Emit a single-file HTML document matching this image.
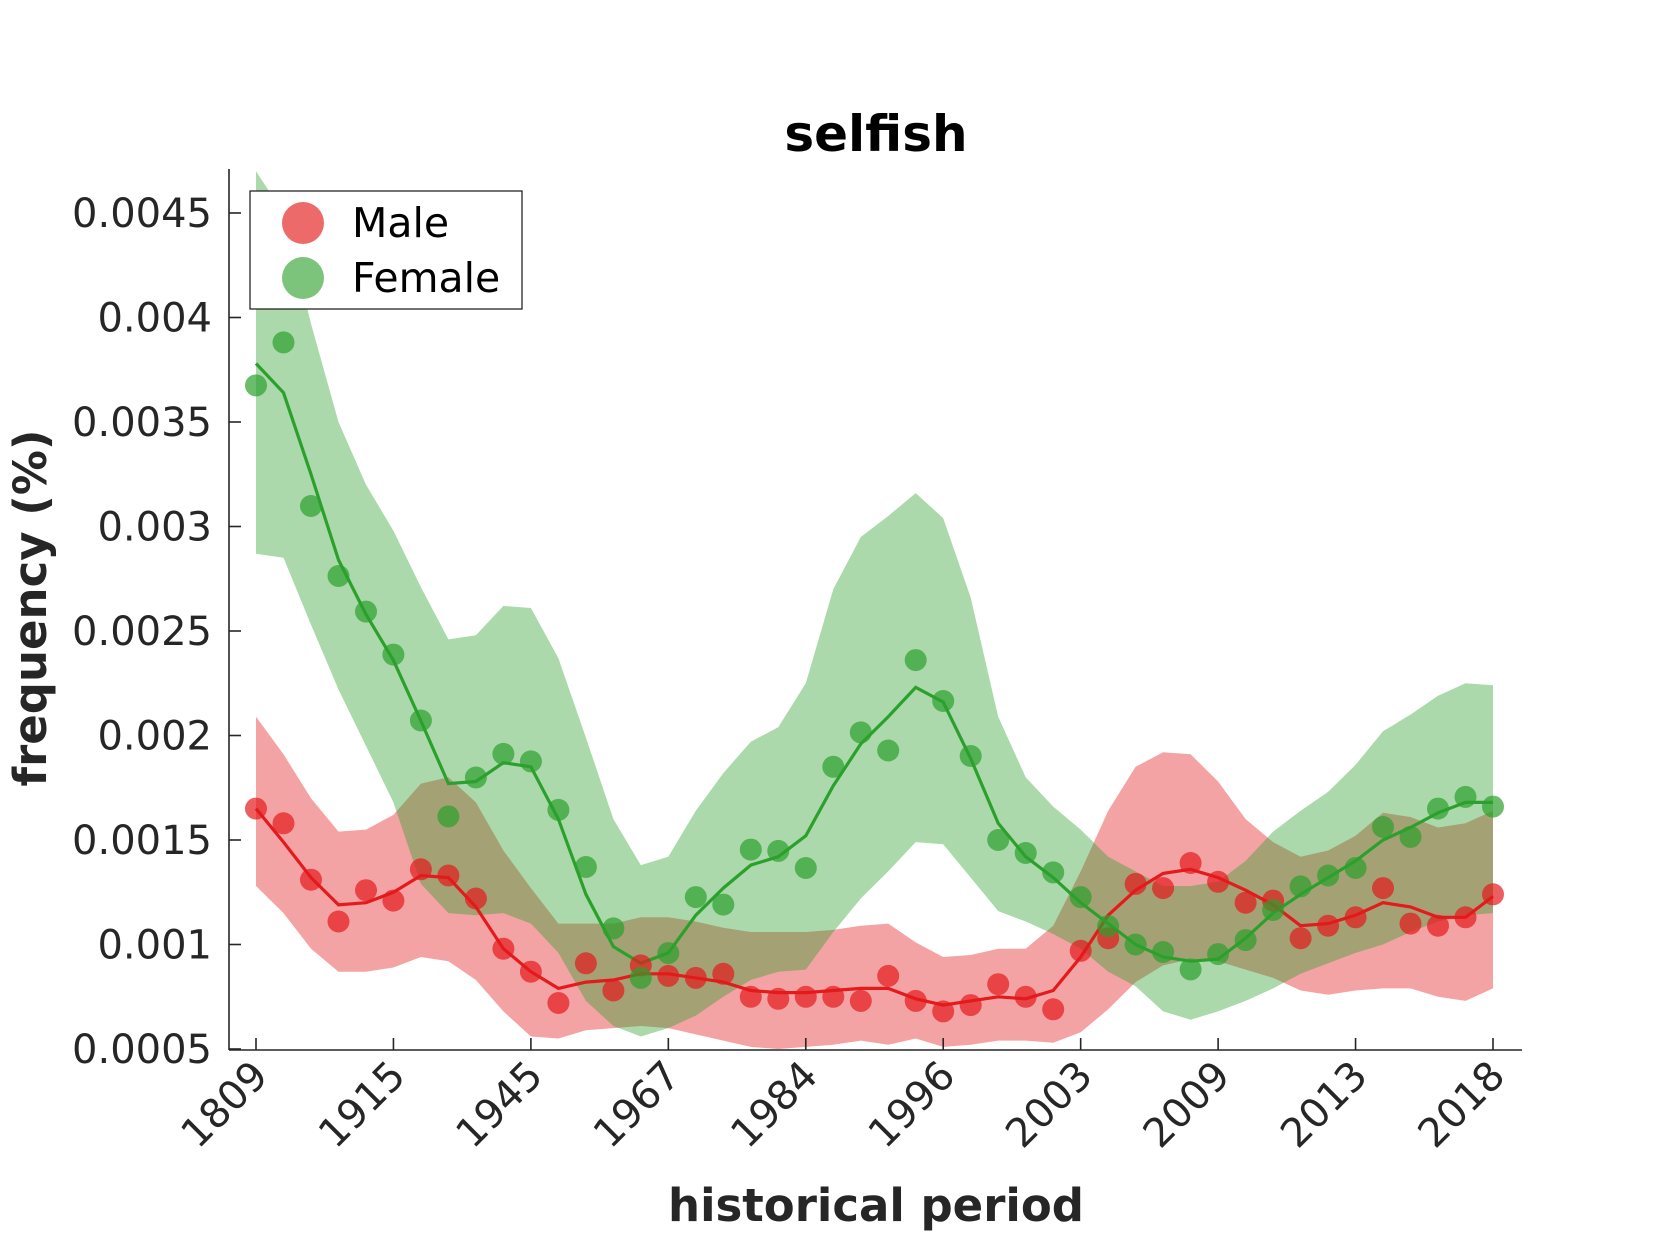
<!DOCTYPE html>
<html><head><meta charset="utf-8"><style>
body{margin:0;background:#fff;}
svg{display:block;font-family:"DejaVu Sans","Liberation Sans",sans-serif;}
</style></head><body>
<svg id="chart" width="1680" height="1260" viewBox="0 0 1680 1260">
<text x="876" y="151" text-anchor="middle" font-size="50" font-weight="bold" fill="#000">selfish</text>
<g id="bands"></g><g id="lines"></g><g id="dots"></g><g id="axes"></g>
<text x="876" y="1221" text-anchor="middle" font-size="45" font-weight="bold" fill="#262626">historical period</text>
<text transform="translate(46,608) rotate(-90)" text-anchor="middle" font-size="45" font-weight="bold" fill="#262626">frequency (%)</text>
<g>
<rect x="250" y="191" width="272" height="118" fill="#fff" stroke="#262626" stroke-width="1.3"/>
<circle cx="303" cy="223" r="21" fill="#e41a1c" fill-opacity="0.65"/>
<text x="352" y="237" font-size="41" fill="#000">Male</text>
<circle cx="303" cy="278" r="21" fill="#2ca02c" fill-opacity="0.62"/>
<text x="352" y="292" font-size="41" fill="#000">Female</text>
</g>
</svg>
<script>
const xTickLabels=["1809","1915","1945","1967","1984","1996","2003","2009","2013","2018"];
const yTicks=[0.0005,0.001,0.0015,0.002,0.0025,0.003,0.0035,0.004,0.0045];
const yTickLabels=["0.0005","0.001","0.0015","0.002","0.0025","0.003","0.0035","0.004","0.0045"];
const femaleDots=[.003675,.003881,.003098,.002763,.002593,.002387,.002072,.001613,.001799,.001912,.001876,.001644,.001371,.001077,.00084,.000959,.001227,.001191,.001454,.001448,.001366,.00185,.002015,.001928,.002361,.002165,.001902,.0015,.001438,.001345,.001227,.001088,.001,.000964,.000881,.000954,.001021,.001165,.001278,.00133,.001366,.001562,.001515,.00165,.001706,.00166];
const femaleLine=[.00378,.00364,.00325,.00284,.00258,.00236,.00207,.00177,.00178,.00187,.00185,.0016,.00124,.00099,.00091,.00096,.00114,.00127,.00138,.00142,.00152,.00176,.00196,.00209,.00223,.00216,.00189,.00158,.00142,.00132,.0012,.0011,.001,.00094,.00092,.00093,.00103,.00115,.00124,.00132,.0014,.0015,.00156,.00163,.00168,.00168];
const femaleUpper=[.0047,.0045,.00397,.0035,.0032,.00298,.00271,.00246,.00248,.00262,.00261,.00237,.00199,.0016,.00138,.00142,.00164,.00182,.00197,.00204,.00225,.0027,.00295,.00305,.00316,.00304,.00266,.00209,.0018,.00166,.00155,.00142,.00135,.00128,.00128,.0013,.0014,.00154,.00164,.00173,.00186,.00202,.0021,.00219,.00225,.00224];
const femaleLower=[.00287,.00285,.00253,.00222,.00195,.00168,.00129,.00115,.00114,.00115,.0011,.00096,.00073,.00061,.00056,.0006,.00066,.00075,.00083,.00087,.00088,.00106,.00122,.00135,.00149,.00148,.00132,.00116,.00111,.00105,.00098,.00087,.0008,.00068,.00064,.00068,.00073,.00079,.00086,.00091,.00096,.001,.00106,.00111,.00114,.00115];
const maleDots=[.00165,.00158,.00131,.00111,.00126,.00121,.00136,.00133,.00122,.00098,.00087,.00072,.00091,.00078,.0009,.00085,.00084,.00086,.00075,.00074,.00075,.00075,.00073,.00085,.00073,.00068,.00071,.00081,.00075,.00069,.00097,.00103,.00129,.00127,.00139,.0013,.0012,.00121,.00103,.00109,.00113,.00127,.0011,.00109,.00113,.00124];
const maleLine=[.00165,.00149,.00132,.00119,.0012,.00125,.00133,.00132,.00118,.00098,.00087,.00079,.00082,.00083,.00086,.00086,.00084,.00082,.00078,.00077,.00077,.00078,.00079,.00079,.00074,.00071,.00073,.00075,.00074,.00078,.00094,.00114,.00126,.00134,.00136,.00132,.00126,.00119,.00109,.0011,.00114,.0012,.00118,.00113,.00113,.00123];
const maleUpper=[.00209,.00191,.0017,.00154,.00155,.00162,.00177,.0018,.00168,.00145,.00127,.0011,.0011,.0011,.00113,.00113,.00111,.00108,.00106,.00106,.00106,.00107,.00109,.0011,.00101,.00094,.00095,.00098,.00098,.00109,.00135,.00164,.00185,.00192,.00191,.00178,.0016,.00149,.00142,.00145,.00152,.00163,.00161,.00156,.00158,.00164];
const maleLower=[.00128,.00115,.00098,.00087,.00087,.00089,.00094,.00092,.00083,.00068,.00056,.00055,.00059,.0006,.00061,.0006,.00057,.00054,.00051,.0005,.00051,.00052,.00054,.00052,.00055,.00051,.00052,.00054,.00054,.00053,.00058,.00069,.00082,.0009,.00093,.00092,.00088,.00084,.00078,.00076,.00078,.00079,.00079,.00075,.00073,.00079];

const NS="http://www.w3.org/2000/svg";
const X0=256,X1=1493,N=femaleDots.length;
const xs=i=>X0+(X1-X0)*i/(N-1);
const ys=v=>1049-(v-0.0005)/0.004*836;
function mk(tag,attrs,parent){const e=document.createElementNS(NS,tag);for(const k in attrs)e.setAttribute(k,attrs[k]);parent.appendChild(e);return e;}
const bands=document.getElementById('bands'),lines=document.getElementById('lines'),dots=document.getElementById('dots'),axes=document.getElementById('axes');
function band(up,lo,color,name){
 let d="M"+up.map((v,i)=>xs(i).toFixed(1)+","+ys(v).toFixed(1)).join("L");
 for(let i=lo.length-1;i>=0;i--)d+="L"+xs(i).toFixed(1)+","+ys(lo[i]).toFixed(1);
 const p=mk('path',{d:d+"Z",fill:color,'fill-opacity':0.4},bands);
 
 
}
band(maleUpper,maleLower,'#e41a1c','male-band');
band(femaleUpper,femaleLower,'#2ca02c','female-band');
function line(arr,color,name){
 const p=mk('polyline',{points:arr.map((v,i)=>xs(i).toFixed(1)+","+ys(v).toFixed(1)).join(" "),fill:'none',stroke:color,'stroke-width':3.2},lines);
 
 
}
line(maleLine,'#e41a1c','male-line');
line(femaleLine,'#2ca02c','female-line');
function pts(arr,color,op,name){
 arr.forEach((v,i)=>{
  const c=mk('circle',{cx:xs(i).toFixed(1),cy:ys(v).toFixed(1),r:11,fill:color,'fill-opacity':op},dots);
  
  
 });
}
pts(maleDots,'#e41a1c',0.7,'male-point');
pts(femaleDots,'#2ca02c',0.7,'female-point');
const la=mk('line',{x1:229,y1:169,x2:229,y2:1050,stroke:'#262626','stroke-width':1.6},axes);


const ba=mk('line',{x1:229,y1:1050,x2:1522,y2:1050,stroke:'#262626','stroke-width':1.6},axes);


yTicks.forEach((v,i)=>{
 const y=ys(v);
 mk('line',{x1:229,y1:y,x2:241,y2:y,stroke:'#262626','stroke-width':1.6},axes);
 const t=mk('text',{x:212,y:y+14,'text-anchor':'end','font-size':40,fill:'#262626'},axes);
 t.textContent=yTickLabels[i];
 
 
});
xTickLabels.forEach((lab,k)=>{
 const x=xs(k*5);
 mk('line',{x1:x,y1:1050,x2:x,y2:1038,stroke:'#262626','stroke-width':1.6},axes);
 const t=mk('text',{transform:`translate(${x+14},${1078}) rotate(-45)`,'text-anchor':'end','font-size':40,fill:'#262626'},axes);
 t.textContent=lab;
 
 
});
</script>
</body></html>
